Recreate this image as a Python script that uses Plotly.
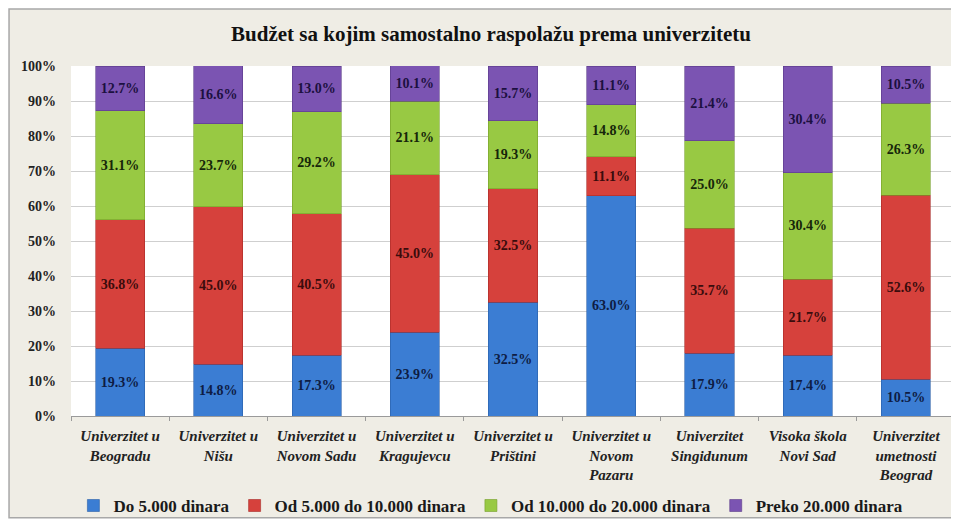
import plotly.graph_objects as go

categories = [
    "<i>Univerzitet u<br>Beogradu</i>",
    "<i>Univerzitet u<br>Nišu</i>",
    "<i>Univerzitet u<br>Novom Sadu</i>",
    "<i>Univerzitet u<br>Kragujevcu</i>",
    "<i>Univerzitet u<br>Prištini</i>",
    "<i>Univerzitet u<br>Novom<br>Pazaru</i>",
    "<i>Univerzitet<br>Singidunum</i>",
    "<i>Visoka škola<br>Novi Sad</i>",
    "<i>Univerzitet<br>umetnosti<br>Beograd</i>",
]
do_5000 = [19.3, 14.8, 17.3, 23.9, 32.5, 63.0, 17.9, 17.4, 10.5]
od_5000_10000 = [36.8, 45.0, 40.5, 45.0, 32.5, 11.1, 35.7, 21.7, 52.6]
od_10000_20000 = [31.1, 23.7, 29.2, 21.1, 19.3, 14.8, 25.0, 30.4, 26.3]
preko_20000 = [12.7, 16.6, 13.0, 10.1, 15.7, 11.1, 21.4, 30.4, 10.5]
series_names = ["Do 5.000 dinara", "Od 5.000 do 10.000 dinara",
                "Od 10.000 do 20.000 dinara", "Preko 20.000 dinara"]
y_ticks = [0, 10, 20, 30, 40, 50, 60, 70, 80, 90, 100]
y_tick_labels = ["0%", "10%", "20%", "30%", "40%", "50%", "60%", "70%", "80%", "90%", "100%"]

colors = ["#3b7dd3", "#d6413c", "#98c943", "#7b54b2"]
line_colors = ["#2a5fa8", "#a82a26", "#76a02a", "#5a3a88"]
text_colors = ["#0e1c44", "#3a0c0c", "#16260a", "#1c1040"]
serif = "Liberation Serif, Times New Roman, serif"

fig = go.Figure()
for name, vals, c, lc, tc in zip(series_names,
                                 [do_5000, od_5000_10000, od_10000_20000, preko_20000],
                                 colors, line_colors, text_colors):
    fig.add_trace(go.Bar(
        x=categories, y=vals, name=name,
        marker=dict(color=c, line=dict(color=lc, width=0.6)),
        width=0.5,
        texttemplate="%{y:.1f}%",
        textposition="inside",
        insidetextanchor="middle",
        textangle=0,
        constraintext="none",
        insidetextfont=dict(family=serif, size=14, color=tc, weight="bold"),
        hoverinfo="skip",
    ))

# Frame (beige background with border) and white plot area
fig.add_shape(type="rect", xref="paper", yref="paper",
              x0=-0.0701, x1=1.003, y0=-0.291, y1=1.163,
              fillcolor="#efede5", line=dict(color="#a8a8a8", width=1.5), layer="below")
fig.add_shape(type="rect", xref="paper", yref="paper",
              x0=0, x1=1, y0=0, y1=1,
              fillcolor="#ffffff", line=dict(width=0), layer="below")

fig.update_layout(
    width=951, height=514,
    barmode="stack",
    paper_bgcolor="#ffffff",
    plot_bgcolor="rgba(0,0,0,0)",
    margin=dict(l=63, r=4, t=58, b=106, autoexpand=False),
    title=dict(text="<b>Budžet sa kojim samostalno raspolažu prema univerzitetu</b>",
               x=483 / 951, xanchor="center", y=1 - 26 / 514, yanchor="middle",
               font=dict(family=serif, size=21, color="#111111")),
    legend=dict(orientation="h", x=0.475, xanchor="center", y=-0.257, yanchor="middle",
                font=dict(family=serif, size=17, color="#1a1a1a", weight="bold"),
                bgcolor="rgba(0,0,0,0)", traceorder="normal"),
    showlegend=True,
)
fig.update_xaxes(
    tickfont=dict(family=serif, size=15, color="#222222", weight="bold"),
    showline=True, linecolor="#9a9a9a", linewidth=1,
    ticks="outside", tickson="boundaries", ticklen=4, tickcolor="#9a9a9a",
    ticklabelstandoff=6,
    showgrid=False, automargin=False,
)
fig.update_yaxes(
    range=[0, 100], tickvals=y_ticks, ticktext=y_tick_labels,
    tickfont=dict(family=serif, size=14, color="#222222", weight="bold"),
    showgrid=True, gridcolor="#cfcfcf", gridwidth=1,
    ticklabelstandoff=14,
    zeroline=False, showline=False, ticks="", automargin=False,
)

fig.write_html("out.html")
